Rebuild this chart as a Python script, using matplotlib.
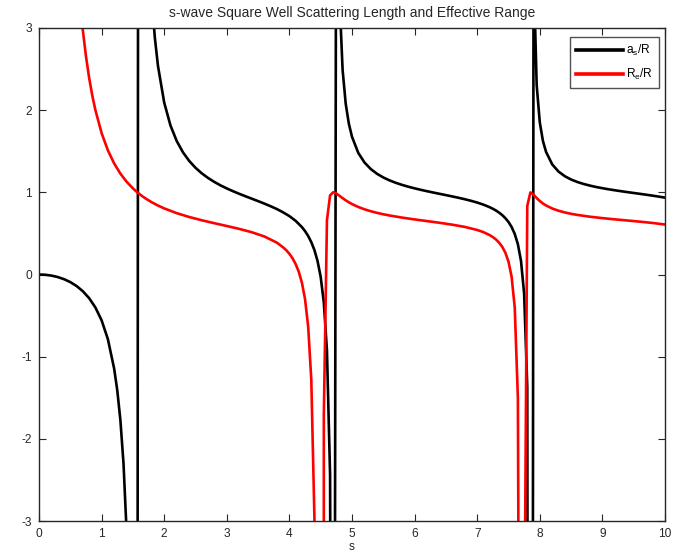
import matplotlib
matplotlib.use("Agg")
import matplotlib.pyplot as plt
import numpy as np

plt.rcParams['font.family'] = ['Liberation Sans', 'DejaVu Sans']
plt.rcParams['mathtext.fontset'] = 'custom'
plt.rcParams['mathtext.rm'] = 'Liberation Sans'
plt.rcParams['mathtext.it'] = 'Liberation Sans'
plt.rcParams['axes.unicode_minus'] = False

# scattering length a_s/R versus s
s_a = [0.0, 0.1, 0.2, 0.3, 0.4, 0.5, 0.6, 0.7, 0.8, 0.9, 1.0, 1.1, 1.2, 1.25, 1.3,
       1.35, 1.4, 1.45, 1.5, 1.55, 1.6, 1.65, 1.7, 1.75, 1.8, 1.85, 1.9, 2.0, 2.1,
       2.2, 2.3, 2.4, 2.5, 2.6, 2.7, 2.8, 2.9, 3.0, 3.1, 3.2, 3.3, 3.4, 3.5, 3.6,
       3.7, 3.8, 3.9, 4.0, 4.1, 4.2, 4.25, 4.3, 4.35, 4.4, 4.45, 4.5, 4.55, 4.6,
       4.65, 4.7, 4.75, 4.8, 4.85, 4.9, 4.95, 5.0, 5.1, 5.2, 5.3, 5.4, 5.5, 5.6,
       5.7, 5.8, 5.9, 6.0, 6.1, 6.2, 6.3, 6.4, 6.5, 6.6, 6.7, 6.8, 6.9, 7.0, 7.1,
       7.2, 7.25, 7.3, 7.35, 7.4, 7.45, 7.5, 7.55, 7.6, 7.65, 7.7, 7.75, 7.8,
       7.85, 7.9, 7.95, 8.0, 8.05, 8.1, 8.2, 8.3, 8.4, 8.5, 8.6, 8.7, 8.8, 8.9,
       9.0, 9.1, 9.2, 9.3, 9.4, 9.5, 9.6, 9.7, 9.8, 9.9, 10.0]
a_over_R = [0.0, -0.0033, -0.0136, -0.0311, -0.0570, -0.0926, -0.1402, -0.2033,
            -0.2871, -0.4002, -0.5574, -0.7862, -1.1435, -1.4077, -1.7708, -2.3002,
            -3.1413, -4.6814, -8.4009, -30.02, 22.40, 8.636, 5.527, 4.154, 3.381,
            2.886, 2.541, 2.0925, 1.8142, 1.6245, 1.4866, 1.3817, 1.2988, 1.2314,
            1.1751, 1.1270, 1.0846, 1.0475, 1.0134, 0.9817, 0.9516, 0.9223, 0.8930,
            0.8629, 0.8306, 0.7963, 0.7563, 0.7105, 0.6528, 0.5767, 0.5279, 0.4684,
            0.3937, 0.2963, 0.1633, -0.0305, -0.3415, -0.9262, -2.4425, -16.17,
            6.596, 3.372, 2.489, 2.075, 1.834, 1.6761, 1.4803, 1.3626, 1.2833,
            1.2255, 1.1810, 1.1453, 1.1157, 1.0905, 1.0683, 1.0485, 1.0304, 1.0134,
            0.9973, 0.9817, 0.9661, 0.9503, 0.9339, 0.9164, 0.8972, 0.8755, 0.8500,
            0.8188, 0.8001, 0.7785, 0.7528, 0.7231, 0.6856, 0.6392, 0.5778, 0.4932,
            0.3681, 0.1633, -0.2363, -1.3723, -30.92, 3.749, 2.306, 1.8500, 1.6256,
            1.4917, 1.3383, 1.2520, 1.1959, 1.1560, 1.1258, 1.1018, 1.0820, 1.0649,
            1.0503, 1.0370, 1.0249, 1.0135, 1.0026, 0.9921, 0.9816, 0.9709, 0.9598,
            0.9480, 0.9352]

# effective range R_e/R versus s
s_r = [0.5, 0.6, 0.65, 0.7, 0.75, 0.8, 0.85, 0.9, 1.0, 1.1, 1.2, 1.3, 1.4, 1.5,
       1.55, 1.6, 1.65, 1.7, 1.8, 1.9, 2.0, 2.2, 2.4, 2.6, 2.8, 3.0, 3.2, 3.4,
       3.6, 3.8, 3.9, 3.95, 4.0, 4.05, 4.1, 4.15, 4.2, 4.25, 4.3, 4.35, 4.4, 4.45,
       4.5, 4.55, 4.6, 4.65, 4.7, 4.75, 4.8, 4.85, 4.9, 4.95, 5.0, 5.1, 5.2, 5.3,
       5.4, 5.5, 5.6, 5.8, 6.0, 6.2, 6.4, 6.6, 6.8, 7.0, 7.1, 7.2, 7.25, 7.3,
       7.35, 7.4, 7.45, 7.5, 7.55, 7.6, 7.65, 7.7, 7.75, 7.8, 7.85, 7.9, 7.95,
       8.0, 8.05, 8.1, 8.2, 8.3, 8.4, 8.5, 8.6, 8.8, 9.0, 9.2, 9.4, 9.6, 9.8, 10.0]
re_over_R = [5.324, 3.857, 3.364, 2.973, 2.657, 2.398, 2.183, 2.0036, 1.7212,
             1.5119, 1.3524, 1.2278, 1.1286, 1.0482, 1.0135, 0.9819, 0.9530,
             0.9265, 0.8795, 0.8394, 0.8044, 0.7465, 0.6998, 0.6600, 0.6244,
             0.5901, 0.5547, 0.5144, 0.4629, 0.3873, 0.3303, 0.2956, 0.2517,
             0.1971, 0.1267, 0.0324, -0.1006, -0.3009, -0.6348, -1.2854, -2.9714,
             -11.81, -355.3, -1.7165, 0.6625, 0.9631, 1.0015, 0.9856, 0.9578,
             0.9291, 0.9025, 0.8787, 0.8575, 0.8219, 0.7933, 0.7699, 0.7501,
             0.7330, 0.7180, 0.6924, 0.6703, 0.6498, 0.6293, 0.6067, 0.5795,
             0.5418, 0.5153, 0.4793, 0.4555, 0.4259, 0.3873, 0.3372, 0.2647,
             0.1564, -0.0288, -0.4054, -1.5065, -11.60, -4.9013, 0.8350, 0.9992,
             0.9720, 0.9305, 0.8942, 0.8644, 0.8400, 0.8028, 0.7758, 0.7551,
             0.7386, 0.7250, 0.7034, 0.6861, 0.6711, 0.6571, 0.6430, 0.6273,
             0.6082]

x_ticks = [0, 1, 2, 3, 4, 5, 6, 7, 8, 9, 10]
y_ticks = [-3, -2, -1, 0, 1, 2, 3]

W, H = 681, 555
ink = '#262626'
fig = plt.figure(figsize=(W / 100, H / 100), dpi=100)
ax = fig.add_axes([39 / W, 1 - 521 / H, (665 - 39) / W, (521 - 28) / H])

ax.plot(s_a, a_over_R, color='black', lw=1.9, label=r'a$_\mathregular{s}$/R')
ax.plot(s_r, re_over_R, color='#ff0000', lw=1.9, label=r'R$_\mathregular{e}$/R')

ax.set_xlim(0, 10)
ax.set_ylim(-3, 3)
ax.set_xticks(x_ticks)
ax.set_yticks(y_ticks)
ax.tick_params(direction='in', length=5, width=0.8, top=True, right=True,
               labelsize=8.6, colors=ink)
ax.tick_params(axis='x', pad=5)
ax.tick_params(axis='y', pad=5)
for sp in ax.spines.values():
    sp.set_linewidth(1.0)
    sp.set_color(ink)

ax.set_title('s-wave Square Well Scattering Length and Effective Range',
             fontsize=10, color=ink, pad=8)
ax.set_xlabel('s', fontsize=8.6, color=ink, labelpad=1)

leg = ax.legend(loc='upper right', bbox_to_anchor=(659 / W, 1 - 37 / H),
                bbox_transform=fig.transFigure, fontsize=8.6, frameon=True,
                fancybox=False, edgecolor=ink, handlelength=3.9,
                handletextpad=0.25, borderpad=0.5, labelspacing=0.75,
                borderaxespad=0)
leg.get_frame().set_linewidth(1.0)
for ln in leg.get_lines():
    ln.set_linewidth(2.6)

fig.savefig('out.png', dpi=100)
